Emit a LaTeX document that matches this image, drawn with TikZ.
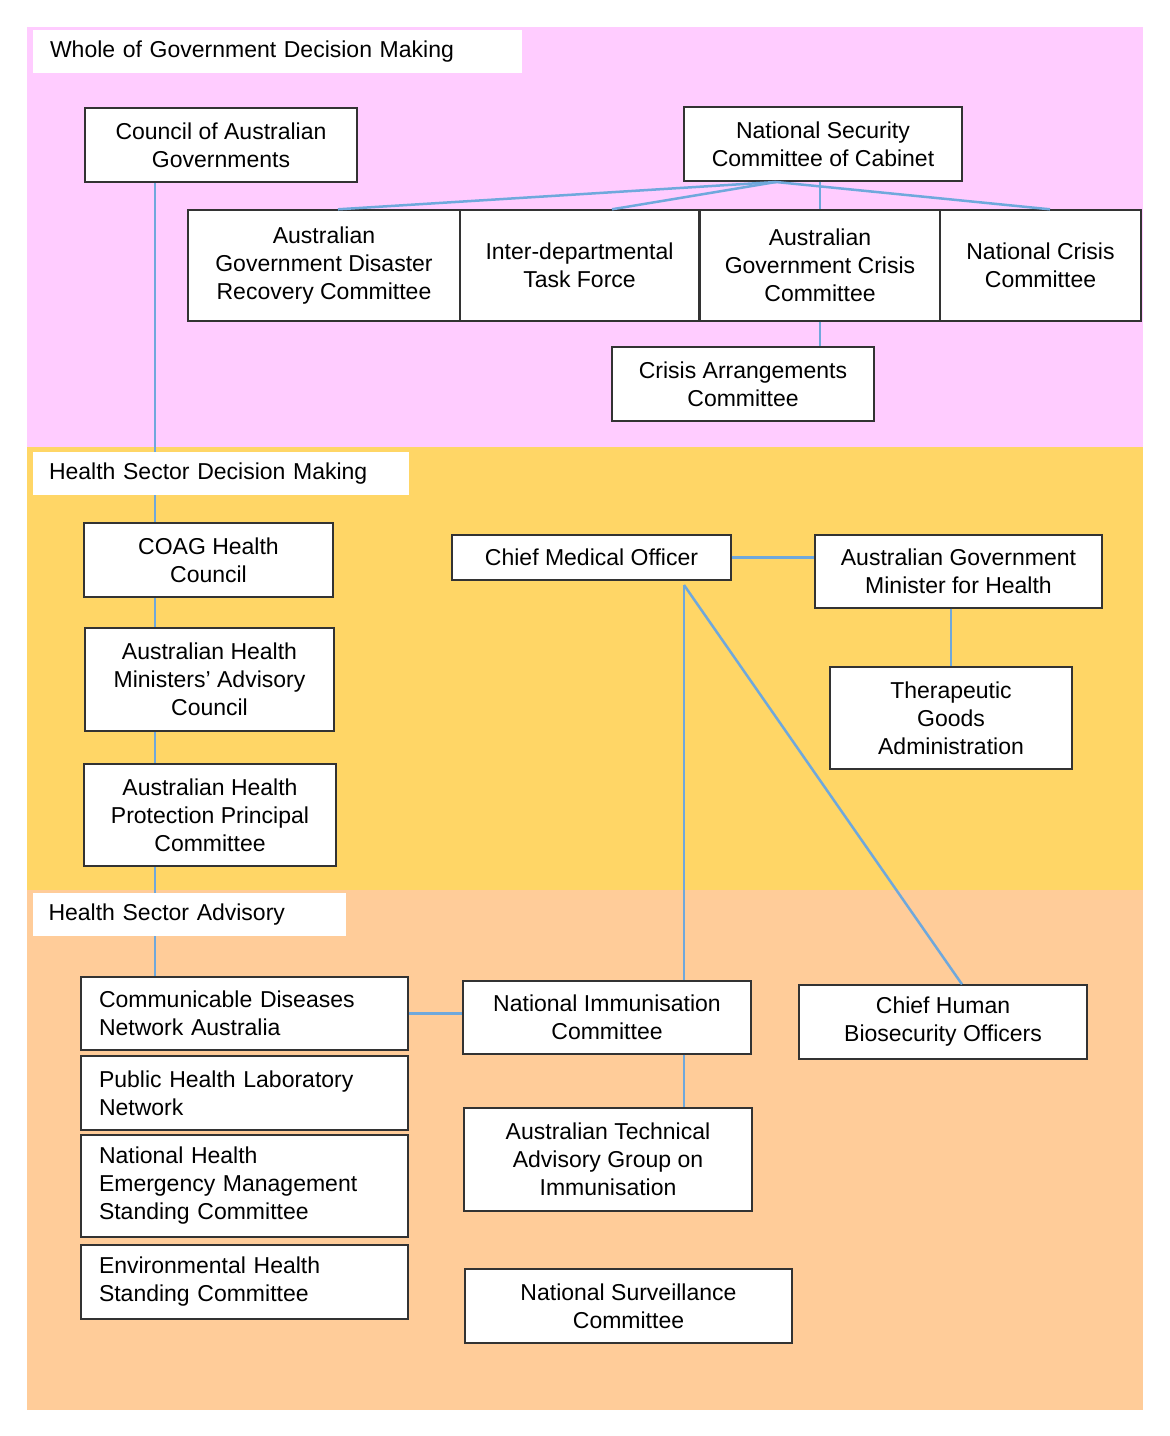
\documentclass[tikz,border=0pt]{standalone}
\usepackage{fontspec}
\setmainfont{Liberation Sans}
\definecolor{wog}{HTML}{FFCCFF}
\definecolor{hsdm}{HTML}{FFD666}
\definecolor{hsa}{HTML}{FFCC99}
\definecolor{link}{HTML}{6FA8DC}
\newcommand{\orgbox}[7][]{%
  \node[box,#1,minimum width={(#4-#2)*0.5pt},minimum height={(#5-#3)*0.5pt}] (#6) at ({(#2+#4)/2},{(#3+#5)/2}) {#7};}
\begin{document}
\begin{tikzpicture}[x=0.5pt,y=-0.5pt]
    \tikzstyle{box}=[rectangle,draw=black!80,line width=0.7pt,fill=white,inner sep=0pt,align=center,font=\fontsize{11.5}{14}\selectfont]
    \tikzstyle{leftbox}=[text width={(#1)*0.5pt},align=left]
    \tikzstyle{title}=[box,draw=none]
    \tikzstyle{conn}=[draw=link,line width=1.25pt]
    \useasboundingbox (0,0) rectangle (1170,1436);

    %%% BACKGROUND BANDS
    \fill[wog] (27,27) rectangle (1143,447);
    \fill[hsdm] (27,447) rectangle (1143,890);
    \fill[hsa] (27,890) rectangle (1143,1410);

    %%% SPINE (behind boxes)
    \coordinate (spine-top) at (155,182);
    \coordinate (spine-bot) at (155,977);
    \draw[conn] (spine-top) -- (spine-bot);

    %%% DRAW THE NODES
    \orgbox[title,leftbox=455]{33}{30}{522}{73}{t-wog}{Whole of Government Decision Making}
    \orgbox{85}{108}{357}{182}{coag}{Council of Australian\\Governments}
    \orgbox{684}{107}{962}{181}{nscc}{National Security\\Committee of Cabinet}
    \orgbox{188}{210}{460}{321}{agdrc}{Australian\\Government Disaster\\Recovery Committee}
    \orgbox{460}{210}{699}{321}{idtf}{Inter-departmental\\Task Force}
    \orgbox{700}{210}{940}{321}{agcc}{Australian\\Government Crisis\\Committee}
    \orgbox{940}{210}{1141}{321}{ncc}{National Crisis\\Committee}
    \orgbox{612}{347}{874}{421}{cac}{Crisis Arrangements\\Committee}

    \orgbox[title,leftbox=344]{33}{452}{409}{495}{t-hsdm}{Health Sector Decision Making}
    \orgbox{84}{523}{333}{597}{coaghc}{COAG Health\\Council}
    \orgbox{85}{628}{334}{731}{ahmac}{Australian Health\\Ministers' Advisory\\Council}
    \orgbox{84}{764}{336}{866}{ahppc}{Australian Health\\Protection Principal\\Committee}
    \orgbox{452}{535}{731}{580}{cmo}{Chief Medical Officer}
    \orgbox{815}{535}{1102}{608}{agmh}{Australian Government\\Minister for Health}
    \orgbox{830}{667}{1072}{769}{tga}{Therapeutic\\Goods\\Administration}

    \orgbox[title,leftbox=282]{33}{893}{346}{936}{t-hsa}{Health Sector Advisory}
    \orgbox[leftbox=291]{81}{977}{408}{1050}{cdna}{Communicable Diseases\\Network Australia}
    \orgbox[leftbox=291]{81}{1056}{408}{1130}{phln}{Public Health Laboratory\\Network}
    \orgbox[leftbox=291]{81}{1135}{408}{1237}{nhemsc}{National Health\\Emergency Management\\Standing Committee}
    \orgbox[leftbox=291]{81}{1245}{408}{1319}{ehsc}{Environmental Health\\Standing Committee}
    \orgbox{463}{981}{751}{1054}{nic}{National Immunisation\\Committee}
    \orgbox{799}{985}{1087}{1059}{chbo}{Chief Human\\Biosecurity Officers}
    \orgbox{464}{1108}{752}{1211}{atagi}{Australian Technical\\Advisory Group on\\Immunisation}
    \orgbox{465}{1269}{792}{1343}{nsc}{National Surveillance\\Committee}

    %%% DRAW THE PATHS
    \coordinate (fan) at (776,182);
    \draw[conn] (fan) -- (agdrc.north -| 338,0);
    \draw[conn] (fan) -- (idtf.north -| 612,0);
    \draw[conn] (fan) -- (ncc.north -| 1050,0);
    \draw[conn] (nscc.south -| agcc.north) -- (agcc.north);
    \draw[conn] (agcc.south) -- (cac.north -| agcc.south);
    \draw[conn] (cmo.east) -- (agmh.west |- cmo.east);
    \draw[conn] (agmh.south -| tga.north) -- (tga.north);
    \coordinate (cmo-hub) at (684,585);
    \draw[conn] (cmo-hub) -- (nic.north -| cmo-hub);
    \draw[conn] (cmo-hub) -- (chbo.north -| 962,0);
    \draw[conn] (cdna.east) -- (nic.west |- cdna.east);
    \draw[conn] (nic.south -| 684,0) -- (atagi.north -| 684,0);
\end{tikzpicture}
\end{document}
